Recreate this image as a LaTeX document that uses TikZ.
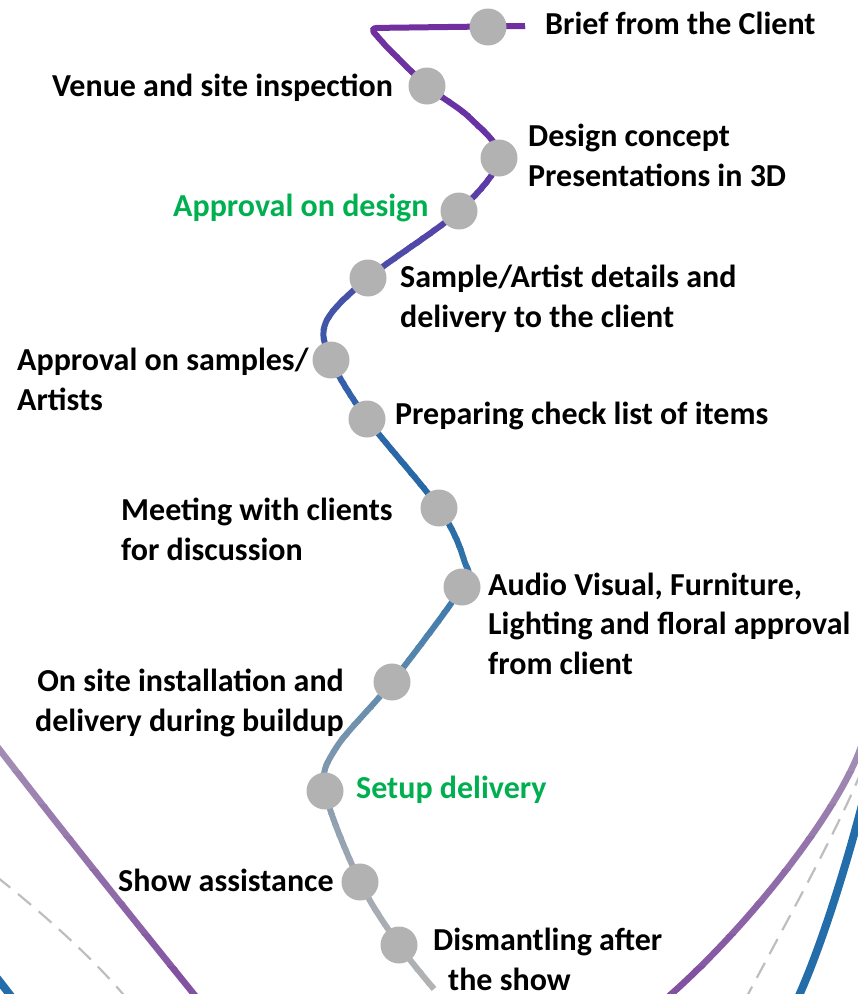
\documentclass[tikz,border=0pt]{standalone}
\usepackage{fontspec}
\setmainfont{Carlito}
\definecolor{dotgray}{RGB}{178,178,178}
\definecolor{green1}{RGB}{0,176,80}
\definecolor{m0}{RGB}{112,48,160}
\definecolor{m1}{RGB}{100,52,165}
\definecolor{m2}{RGB}{88,66,168}
\definecolor{m3}{RGB}{74,78,168}
\definecolor{m4}{RGB}{58,90,170}
\definecolor{m5}{RGB}{46,102,170}
\definecolor{m6}{RGB}{36,106,165}
\definecolor{m7}{RGB}{55,118,170}
\definecolor{m8}{RGB}{95,138,172}
\definecolor{m9}{RGB}{135,155,175}
\definecolor{m10}{RGB}{162,170,180}
\definecolor{m11}{RGB}{180,180,180}
\definecolor{sidetop}{RGB}{165,145,180}
\definecolor{sidebot}{RGB}{128,78,160}
\definecolor{sideblue}{RGB}{35,110,170}
\definecolor{dashgray}{RGB}{190,190,190}
\newcommand\gradline[6]{%
  \foreach \k in {0,...,7}{%
    \pgfmathsetmacro\ylo{#3+(#4-#3)*\k/8-0.6}%
    \pgfmathsetmacro\yhi{#3+(#4-#3)*(\k+1)/8+0.6}%
    \pgfmathtruncatemacro\pc{100-(\k+0.5)*12.5}%
    \begin{scope}
      \clip (-20,\ylo) rectangle (880,\yhi);
      \draw[#2, draw=#5!\pc!#6, #1];
    \end{scope}}}
\tikzset{
  dot/.style={circle, fill=dotgray, draw=none, minimum size=37pt, inner sep=0pt},
  lbl/.style={inner sep=0pt, font=\fontsize{32}{39.5}\selectfont\bfseries, align=left, text=black},
  grn/.style={lbl, text=green1},
  mainline/.style={line width=6pt},
  sideline/.style={line width=6.5pt},
  blueline/.style={line width=8pt, draw=sideblue},
  dashline/.style={line width=2.2pt, draw=dashgray, dash pattern=on 17pt off 10pt},
  mainpath/.style={insert path={(525,26) [rounded corners=7pt] -- (370,28) -- (385,45) [sharp corners]
    plot[smooth, tension=0.55] coordinates {(385,45) (p2) (470,118) (p3) (p4) (p5) (326,322) (p6) (p7) (p8) (464,560) (p9) (p10) (336,748) (p11) (p12) (p13) (434,989)}}},
  leftpurple/.style={insert path={(-4,745) .. controls (60,828) and (130,915) .. (197,998)}},
  rightpurple/.style={insert path={(862,744) .. controls (840,810) and (750,925) .. (668,997)}},
}
\begin{document}
\begin{tikzpicture}[x=1pt, y=-1pt]
\useasboundingbox (0,0) rectangle (858,994);
% dot positions
\coordinate (p1) at (488,27);
\coordinate (p2) at (427,86);
\coordinate (p3) at (499,158);
\coordinate (p4) at (459,211);
\coordinate (p5) at (368,278);
\coordinate (p6) at (331,360);
\coordinate (p7) at (367,419);
\coordinate (p8) at (439,508);
\coordinate (p9) at (462,587);
\coordinate (p10) at (392,682);
\coordinate (p11) at (325,791);
\coordinate (p12) at (360,882);
\coordinate (p13) at (399,945);
% side curves
\gradline{leftpurple}{sideline}{740}{1000}{sidetop}{sidebot}
\gradline{rightpurple}{sideline}{740}{1000}{sidetop}{sidebot}
\draw[dashline] (-3,877) .. controls (45,915) and (95,960) .. (128,1000);
\draw[dashline] (862,770) .. controls (835,835) and (790,915) .. (745,1000);
\draw[blueline] (862,805) .. controls (845,870) and (820,950) .. (797,1000);
\draw[blueline] (-3,978) -- (14,1000);
% main curve
\foreach \ya/\yb/\ca/\cb in {-10/40/m0/m0, 40/158/m0/m1, 158/211/m1/m2, 211/278/m2/m3, 278/360/m3/m4, 360/419/m4/m5, 419/508/m5/m6, 508/587/m6/m7, 587/682/m7/m8, 682/791/m8/m9, 791/882/m9/m10, 882/1000/m10/m11}{
  \gradline{mainpath}{mainline}{\ya}{\yb}{\ca}{\cb}
}
% dots
\foreach \i in {1,...,13}{ \node[dot] (d\i) at (p\i) {}; }
% labels (base anchor = baseline of the last line)
\node[lbl, anchor=base west] (t1) at (545,34) {Brief from the Client};
\node[lbl, anchor=base west] (t2) at (52,96) {Venue and site inspection};
\node[lbl, anchor=base west] (t3) at (528,186) {Design concept\\Presentations in 3D};
\node[grn, anchor=base west] (t4) at (173,216) {Approval on design};
\node[lbl, anchor=base west] (t5) at (400,327) {Sample/Artist details and\\delivery to the client};
\node[lbl, anchor=base west] (t6) at (17,410) {Approval on samples/\\Artists};
\node[lbl, anchor=base west] (t7) at (395,424) {Preparing check list of items};
\node[lbl, anchor=base west] (t8) at (121,560) {Meeting with clients\\for discussion};
\node[lbl, anchor=base west] (t9) at (488,674) {Audio Visual, Furniture,\\Lighting and floral approval\\from client};
\node[lbl, anchor=base east, align=right] (t10) at (344,731) {On site installation and\\delivery during buildup};
\node[grn, anchor=base west] (t11) at (356,798) {Setup delivery};
\node[lbl, anchor=base west] (t12) at (118,891) {Show assistance};
\node[lbl, anchor=base west] (t13) at (433,990) {Dismantling after\\\hspace{15pt}the show};
\end{tikzpicture}
\end{document}
